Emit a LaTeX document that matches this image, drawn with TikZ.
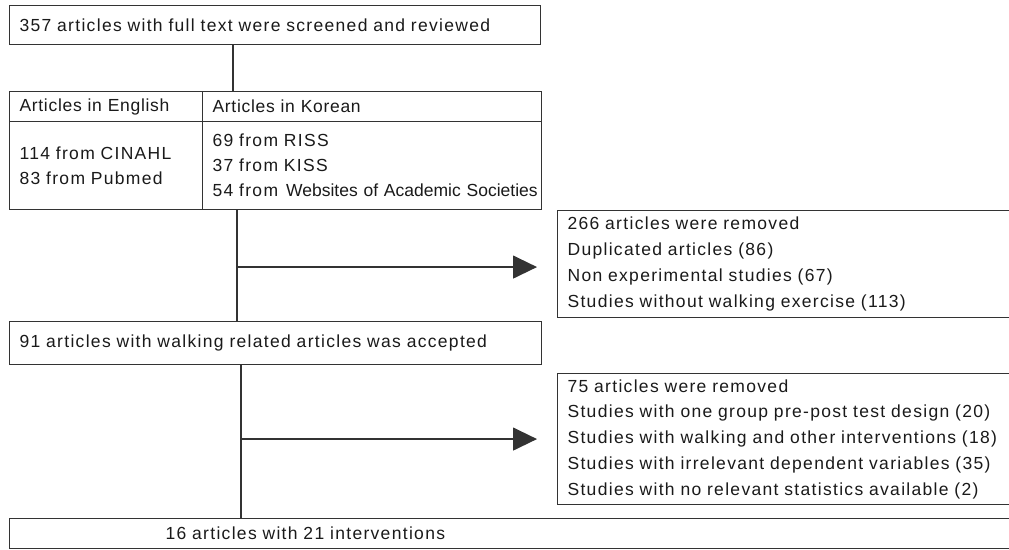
\documentclass[tikz,border=0pt]{standalone}
\usepackage{fontspec}
\setmainfont{Liberation Sans}[LetterSpace=7.5]
\usepackage{tikz}
\usetikzlibrary{calc,positioning,arrows.meta}
\definecolor{inkline}{HTML}{333333}
\definecolor{inktext}{HTML}{1A1A1A}
\newcommand{\boxfont}[1]{\fontsize{17.5}{#1}\selectfont\fontdimen2\font=10.8pt\relax}
\newcommand{\headfont}{\fontsize{17.5}{25}\selectfont\addfontfeature{LetterSpace=4}}
\tikzstyle{box}   = [draw=inkline, line width=1.1pt, anchor=north west, inner xsep=10pt, inner ysep=0pt, align=left, text=inktext, font=\boxfont{25}]
\tikzstyle{head}  = [box, minimum height=30pt, font=\headfont]
\tikzstyle{link}  = [draw=inkline, line width=1.3pt]
\tikzstyle{arrow} = [link, -{Triangle[length=24pt,width=23pt]}, shorten >=20pt]

\begin{document}
\begin{tikzpicture}[x=1pt, y=-1pt]
	\useasboundingbox[fill=white] (0,0) rectangle (1009,549);
	\clip (0,0) rectangle (1009,549);
	% screening
	\node[box, minimum width=531pt, minimum height=39pt, text width=511pt] (screen) at (9,5)
		{357 articles with full text were screened and reviewed};
	% table of sources
	\node[head, minimum width=193pt, text width=173pt] (hdrE) at (9,91) {Articles in English};
	\node[head, minimum width=339pt, text width=319pt] (hdrK) at (202,91) {Articles in Korean};
	\node[box, minimum width=193pt, minimum height=88pt, text width=173pt] (srcE) at (9,121)
		{114 from CINAHL\\ 83 from Pubmed};
	\node[box, minimum width=339pt, minimum height=88pt, text width=319pt] (srcK) at (202,121)
		{69 from RISS\\ 37 from KISS\\ \mbox{54 from\hspace{8pt}{\addfontfeature{LetterSpace=0}Websites of Academic Societies}}};
	% first exclusion
	\node[box, minimum width=458pt, minimum height=107pt, text width=438pt, font=\boxfont{26}] (removedA) at (557,210)
		{266 articles were removed\\ Duplicated articles (86)\\ Non experimental studies (67)\\ Studies without walking exercise (113)};
	\node[box, minimum width=532pt, minimum height=43pt, text width=512pt] (accepted) at (9,321)
		{91 articles with walking related articles was accepted};
	% second exclusion
	\node[box, minimum width=458pt, minimum height=131pt, text width=438pt, font=\boxfont{25.75}] (removedB) at (557,373)
		{75 articles were removed\\ Studies with one group pre-post test design (20)\\ Studies with walking and other interventions (18)\\ Studies with irrelevant dependent variables (35)\\ Studies with no relevant statistics available (2)};
	\node[box, minimum width=1010pt, minimum height=30pt, text width=990pt] (final) at (9,518)
		{\hspace*{146pt}16 articles with 21 interventions};

	\draw[link] ([xshift=31pt]hdrK.north west) coordinate (j0) -- (j0 |- screen.south);
	\draw[link] ([xshift=35pt]srcK.south west) coordinate (j1) -- (j1 |- accepted.north);
	\draw[arrow] ([yshift=-3pt]j1 |- removedA.west) -- ([yshift=-3pt]removedA.west);
	\draw[link] ([xshift=232pt]accepted.south west) coordinate (j2) -- (j2 |- final.north);
	\draw[arrow] (j2 |- removedB.west) -- (removedB.west);
\end{tikzpicture}
\end{document}
